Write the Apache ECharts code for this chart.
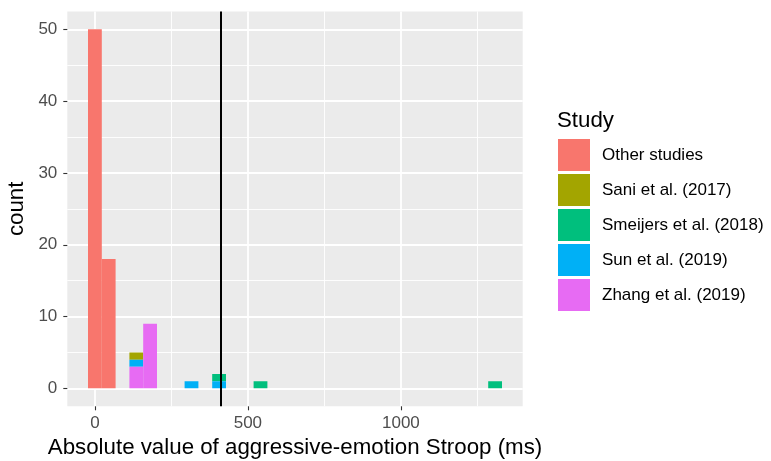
<!DOCTYPE html>
<html><head><meta charset="utf-8">
<script src="https://cdn.jsdelivr.net/npm/echarts@6/dist/echarts.min.js"></script>
<style>html,body{margin:0;padding:0;background:#fff}#c{width:771px;height:461px}</style>
</head><body><div id="c"></div>
<script>
// ---- data (histogram with 30 bins, bins centred on multiples of binWidth) ----
const binWidth = 45.1;
const studies = ['Other studies', 'Sani et al. (2017)', 'Smeijers et al. (2018)', 'Sun et al. (2019)', 'Zhang et al. (2019)'];
const colors = ['#F8766D', '#A3A500', '#00BF7D', '#00B0F6', '#E76BF3'];
const otherBins = [0, 1];        const otherCounts = [50, 18];
const saniBins = [3];            const saniCounts = [1];
const smeijersBins = [9, 12, 29]; const smeijersCounts = [1, 1, 1];
const sunBins = [3, 7, 9];       const sunCounts = [1, 1, 1];
const zhangBins = [3, 4];        const zhangCounts = [3, 9];
const cutoff = 412;
const xTicks = [0, 500, 1000];
const xMinor = [250, 750, 1250];
const yTicks = [0, 10, 20, 30, 40, 50];
const yMinor = [5, 15, 25, 35, 45];
const xMin = -90.2, xMax = 1398.1, yMin = -2.5, yMax = 52.5;

// stacking: ggplot puts first level on top -> bottom-to-top order is reversed
const groups = [
  [otherBins, otherCounts], [saniBins, saniCounts], [smeijersBins, smeijersCounts],
  [sunBins, sunCounts], [zhangBins, zhangCounts]
];
const base = {};
const stackedData = new Array(groups.length);
for (let g = groups.length - 1; g >= 0; g--) {
  const [bins, counts] = groups[g];
  stackedData[g] = bins.map((b, i) => {
    const lo = base[b] || 0, hi = lo + counts[i];
    base[b] = hi;
    return [b * binWidth, lo, hi];
  });
}

const FONT = '"Liberation Sans", Arial, sans-serif';
const chart = echarts.init(document.getElementById('c'), null, {renderer: 'canvas'});

function renderBar(params, api) {
  const c = api.value(0), lo = api.value(1), hi = api.value(2);
  const p1 = api.coord([c - binWidth / 2, hi]);
  const p2 = api.coord([c + binWidth / 2, lo]);
  return {
    type: 'rect',
    shape: {x: p1[0], y: p1[1], width: p2[0] - p1[0], height: p2[1] - p1[1]},
    style: {fill: api.visual('color')}
  };
}

const series = studies.map((name, g) => ({
  name: name,
  type: 'custom',
  xAxisIndex: 0, yAxisIndex: 0,
  renderItem: renderBar,
  encode: {x: 0, y: [1, 2]},
  itemStyle: {color: colors[g]},
  data: stackedData[g],
  clip: true,
  z: 3
}));
series[0].markLine = {
  silent: true,
  symbol: ['none', 'none'],
  label: {show: false},
  lineStyle: {color: '#000', width: 2, type: 'solid'},
  emphasis: {disabled: true},
  data: [{xAxis: cutoff}]
};

const plain = v => String(v);
const commonX = {type: 'value', min: xMin, max: xMax, gridIndex: 0, axisLine: {show: false, onZero: false}};
const commonY = {type: 'value', min: yMin, max: yMax, gridIndex: 0, axisLine: {show: false, onZero: false}};

chart.setOption({
  animation: false,
  backgroundColor: '#fff',
  textStyle: {fontFamily: FONT},
  title: {
    text: 'Study', left: 557, top: 110, padding: 0,
    textStyle: {fontFamily: FONT, fontSize: 22.3, fontWeight: 'normal', color: '#000'}
  },
  legend: {
    orient: 'vertical', left: 558, top: 139, padding: 0,
    itemWidth: 32, itemHeight: 32, itemGap: 3,
    icon: 'rect',
    data: studies,
    textStyle: {fontFamily: FONT, fontSize: 17, color: '#000', padding: [0, 0, 0, 7]},
    itemStyle: {borderWidth: 0}
  },
  grid: {left: 67.3, top: 11.4, right: 248.3, bottom: 54.7, containLabel: false, outerBoundsMode: 'none',
         show: true, backgroundColor: '#EBEBEB', borderWidth: 0},
  xAxis: [
    Object.assign({}, commonX, {
      position: 'bottom',
      name: 'Absolute value of aggressive-emotion Stroop (ms)',
      nameLocation: 'middle', nameGap: 16,
      nameTextStyle: {fontFamily: FONT, fontSize: 22.3, color: '#000', verticalAlign: 'top'},
      axisTick: {show: true, length: 4, lineStyle: {color: '#333', width: 1.1}, customValues: xTicks},
      axisLabel: {customValues: xTicks, formatter: plain, color: '#4D4D4D', fontSize: 17, fontFamily: FONT, margin: 9},
      splitLine: {show: true, lineStyle: {color: '#fff', width: 1.8}}
    }),
    Object.assign({}, commonX, {
      position: 'bottom',
      axisTick: {show: false, customValues: xMinor},
      axisLabel: {show: false, customValues: xMinor},
      splitLine: {show: true, lineStyle: {color: '#fff', width: 0.9}}
    })
  ],
  yAxis: [
    Object.assign({}, commonY, {
      position: 'left',
      name: 'count', nameLocation: 'middle', nameGap: 38,
      nameTextStyle: {fontFamily: FONT, fontSize: 22.3, color: '#000'},
      axisTick: {show: true, length: 4, lineStyle: {color: '#333', width: 1.1}, customValues: yTicks},
      axisLabel: {customValues: yTicks, formatter: plain, color: '#4D4D4D', fontSize: 17, fontFamily: FONT, margin: 10},
      splitLine: {show: true, lineStyle: {color: '#fff', width: 1.8}}
    }),
    Object.assign({}, commonY, {
      position: 'left',
      axisTick: {show: false, customValues: yMinor},
      axisLabel: {show: false, customValues: yMinor},
      splitLine: {show: true, lineStyle: {color: '#fff', width: 0.9}}
    })
  ],
  series: series
});
</script>
</body></html>
